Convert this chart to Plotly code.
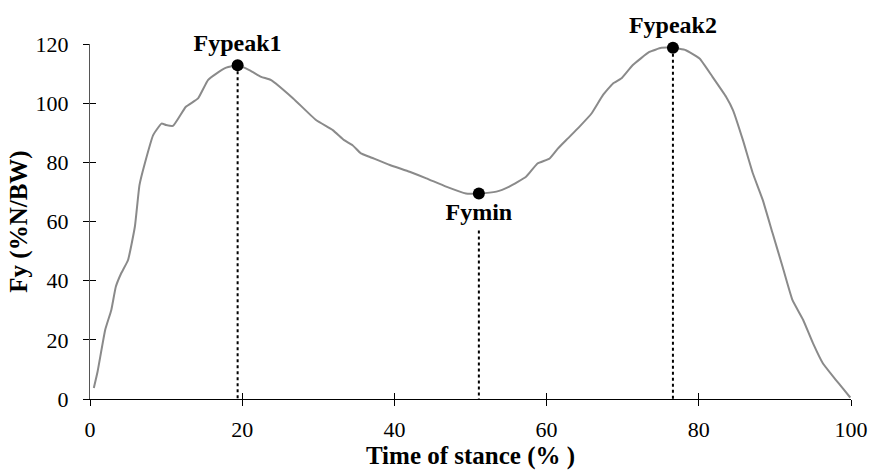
import plotly.graph_objects as go

# Vertical ground reaction force over the stance phase
stance_pct = [0.5, 1.0, 2.0, 2.8, 3.4, 4.1, 5.0, 5.9, 6.5, 7.2, 8.3, 9.4, 10.0, 10.9,
              12.6, 14.2, 15.5, 16.6, 17.9, 19.4, 21.0, 22.5, 23.8, 26.7, 29.7, 31.9,
              33.4, 34.5, 35.6, 36.7, 39.4, 42.0, 44.2, 46.8, 49.4, 51.1, 53.4, 55.1,
              57.3, 58.8, 60.4, 61.5, 62.8, 64.3, 65.9, 67.4, 68.7, 69.8, 71.3, 73.5,
              75.1, 76.6, 78.3, 80.1, 81.8, 83.6, 84.5, 85.8, 87.1, 88.4, 89.7, 91.0,
              92.3, 93.7, 95.0, 96.3, 98.0, 98.9, 99.9]
fy_pct_bw = [3.7, 9.3, 23.4, 30.1, 38.0, 42.5, 47.0, 58.3, 72.3, 79.6, 89.2, 93.1, 92.6, 92.3,
             98.8, 101.6, 107.8, 110.0, 112.0, 112.8, 111.1, 108.9, 107.8, 101.6, 94.3, 90.9,
             87.5, 85.8, 83.0, 81.9, 79.1, 76.8, 74.6, 71.8, 69.5, 69.5, 70.1, 71.8,
             75.1, 79.6, 81.3, 84.7, 88.1, 92.0, 96.5, 102.7, 106.6, 108.3, 112.8, 117.3,
             118.7, 118.7, 117.9, 115.1, 108.9, 102.1, 97.6, 87.5, 76.3, 67.3, 56.0, 44.8,
             33.5, 26.8, 18.9, 12.1, 6.5, 3.7, 0.5]

# Characteristic events of the force curve
event_names = ["Fypeak1", "Fymin", "Fypeak2"]
event_x = [19.4, 51.1, 76.6]
event_y = [112.8, 69.5, 118.7]
label_side = ["top center", "bottom center", "top center"]
# upper end of each dotted drop line (Fymin's starts below its label)
drop_top = [112.8, 57.0, 118.7]

x_ticks = [0, 20, 40, 60, 80, 100]
y_ticks = [0, 20, 40, 60, 80, 100, 120]

serif = "Liberation Serif, Times New Roman, serif"

fig = go.Figure()

# dotted drop lines from each event to the time axis
for ex, top in zip(event_x, drop_top):
    fig.add_trace(go.Scatter(x=[ex, ex], y=[top, 0], mode="lines",
                             line=dict(color="black", width=2, dash="dot"),
                             hoverinfo="skip", showlegend=False))

fig.add_trace(go.Scatter(x=stance_pct, y=fy_pct_bw, mode="lines",
                         line=dict(color="#8a8a8a", width=2, shape="spline", smoothing=0.4),
                         showlegend=False))

fig.add_trace(go.Scatter(x=event_x, y=event_y, mode="markers+text",
                         marker=dict(color="black", size=12),
                         text=[f"<b>{n}</b>" for n in event_names],
                         textposition=label_side,
                         textfont=dict(family=serif, size=24, color="black"),
                         showlegend=False, cliponaxis=False))

# companion axes carrying the inner half of the crossing tick marks
fig.add_trace(go.Scatter(x=[0], y=[0], xaxis="x2", yaxis="y2", mode="markers",
                         marker=dict(opacity=0), hoverinfo="skip", showlegend=False))

fig.update_layout(
    width=872, height=471,
    margin=dict(l=90, r=21, t=44, b=72),
    paper_bgcolor="white", plot_bgcolor="white",
    font=dict(family=serif, size=22, color="black"),
    xaxis=dict(range=[0, 100], tickvals=x_ticks, ticks="outside", ticklen=6,
               tickcolor="black", showline=True, linecolor="black", linewidth=1,
               showgrid=False, zeroline=False, tickfont=dict(size=22),
               ticklabelstandoff=5, automargin=False,
               title=dict(text="<b>Time of stance (% )</b>", font=dict(size=25), standoff=4)),
    yaxis=dict(range=[0, 120], tickvals=y_ticks, ticks="outside", ticklen=6,
               tickcolor="black", showline=True, linecolor="#555", linewidth=1,
               showgrid=False, zeroline=False, tickfont=dict(size=22),
               ticklabelstandoff=10, automargin=False,
               title=dict(text="<b>Fy (%N/BW)</b>", font=dict(size=25), standoff=0)),
    xaxis2=dict(range=[0, 100], tickvals=x_ticks, ticks="inside", ticklen=6,
                tickcolor="black", overlaying="x", showticklabels=False,
                showgrid=False, zeroline=False, showline=False),
    yaxis2=dict(range=[0, 120], tickvals=y_ticks, ticks="inside", ticklen=6,
                tickcolor="black", overlaying="y", showticklabels=False,
                showgrid=False, zeroline=False, showline=False),
)

fig.write_html("out.html")
